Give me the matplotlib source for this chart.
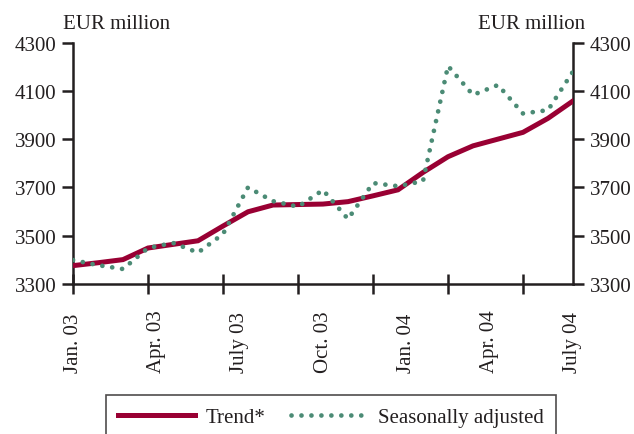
import matplotlib
matplotlib.use("Agg")
import matplotlib.pyplot as plt
from matplotlib.lines import Line2D
import matplotlib.transforms as mtransforms

# ---- data ----
months = list(range(21))  # monthly observations
trend = [3376, 3388, 3401, 3449, 3464, 3479, 3540, 3599, 3627, 3629, 3631,
         3641, 3665, 3690, 3762, 3827, 3872, 3900, 3928, 3986, 4058]
seas_adj = [3399, 3378, 3362, 3449, 3470, 3430, 3507, 3700, 3643, 3620, 3689,
            3569, 3718, 3705, 3726, 4203, 4083, 4124, 4006, 4020, 4180]
tick_marks = [0, 3, 6, 9, 12, 15, 18]
tick_labels = ["Jan. 03", "Apr. 03", "July 03", "Oct. 03", "Jan. 04", "Apr. 04", "July 04"]
label_pos = [0, 20/6, 40/6, 10, 80/6, 100/6, 20]
yticks = [3300, 3500, 3700, 3900, 4100, 4300]

RED = "#990033"
GREEN = "#4b8b75"
INK = "#231f20"
DOTS = (0, (0.01, 2.1))

plt.rcParams['font.family'] = ['Liberation Serif', 'DejaVu Serif']

fig = plt.figure(figsize=(6.34, 4.35), dpi=100)
ax = fig.add_axes([73/634, 1-285/435, 500/634, 241.5/435])

ax.plot(months, trend, color=RED, lw=3.6, solid_joinstyle='miter', zorder=3)
ax.plot(months, seas_adj, color=GREEN, lw=3.4, linestyle=DOTS,
        dash_capstyle='round', zorder=4)

ax.set_xlim(0, 20)
ax.set_ylim(3300, 4300)
ax.set_yticks(yticks)
ax.set_yticklabels([str(v) for v in yticks])

for s in ['left', 'right', 'bottom']:
    ax.spines[s].set_color(INK)
    ax.spines[s].set_linewidth(1.8)
ax.spines['top'].set_visible(False)

ax.tick_params(axis='y', which='major', direction='out', length=8, width=1.8,
               color=INK, left=True, right=True, labelleft=True, labelright=True,
               labelsize=15, pad=4, labelcolor=INK)
ax.set_xticks(tick_marks)
ax.set_xticklabels([])
ax.tick_params(axis='x', which='major', direction='inout', length=15, width=1.8, color=INK)

trans = mtransforms.blended_transform_factory(ax.transData, ax.transAxes)
for p, lab in zip(label_pos, tick_labels):
    ax.text(p, -(373-285)/241.5, lab, rotation=90, ha='center', va='bottom',
            fontsize=15, color=INK, transform=trans, clip_on=False)

fig.text(63/634, 1-29/435, "EUR million", fontsize=15, color=INK, ha='left', va='baseline')
fig.text(585/634, 1-29/435, "EUR million", fontsize=15, color=INK, ha='right', va='baseline')

handles = [Line2D([], [], color=RED, lw=3.6),
           Line2D([], [], color=GREEN, lw=3.4, linestyle=DOTS, dash_capstyle='round')]
leg = fig.legend(handles, ["Trend*", "Seasonally adjusted"], loc='upper center',
                 bbox_to_anchor=(331/634, 1-396/435), ncol=2, fontsize=15,
                 frameon=True, fancybox=False, edgecolor=INK, handlelength=3.7,
                 handletextpad=0.5, columnspacing=1.2, borderpad=0.6,
                 borderaxespad=0)
leg.get_frame().set_linewidth(1.2)
for t in leg.get_texts():
    t.set_color(INK)

fig.savefig("out.png", dpi=100)
